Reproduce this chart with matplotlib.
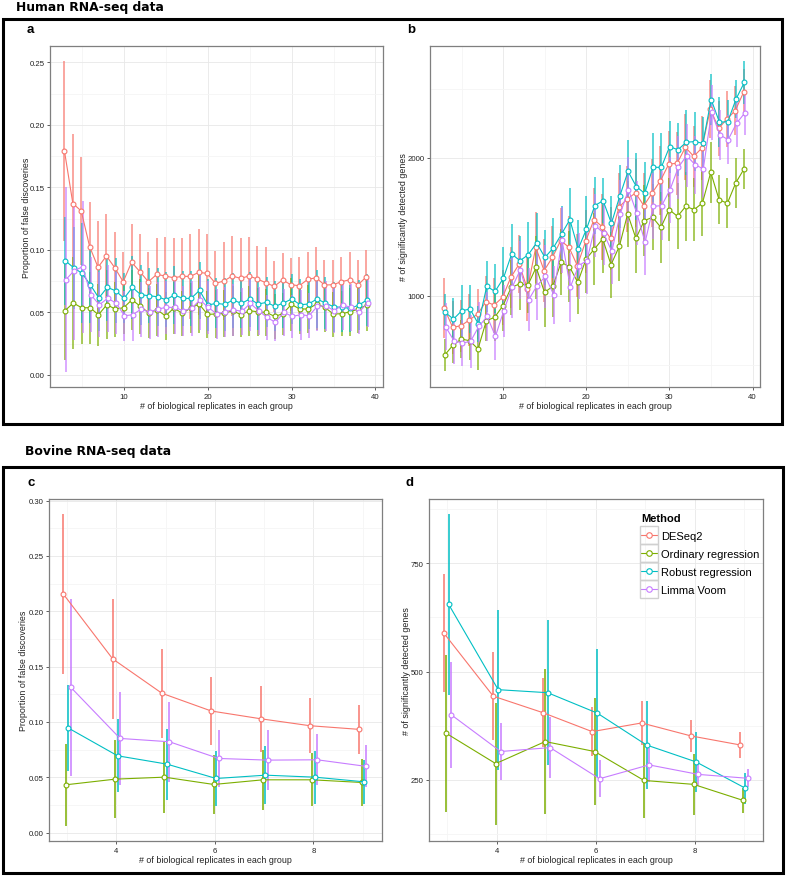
import matplotlib
matplotlib.use("Agg")
import matplotlib.pyplot as plt
from matplotlib.lines import Line2D
from matplotlib.patches import Rectangle
from matplotlib.ticker import FixedLocator, FormatStrFormatter
import numpy as np

plt.rcParams['font.family'] = ['Liberation Sans', 'DejaVu Sans']

methods = ['DESeq2', 'Ordinary regression', 'Robust regression', 'Limma Voom']
colors = ['#F8766D', '#7CAE00', '#00BFC4', '#C77CFF']
offsets = [-0.075, -0.025, 0.025, 0.075]

# ---- human data (3..39 replicates) ----
reps_h = list(range(3, 40))

fdr_h_deseq2 = [0.179, 0.137, 0.131, 0.1025, 0.086, 0.095, 0.0856, 0.0744, 0.090, 0.0824,
                0.0744, 0.0803, 0.079, 0.0776, 0.0787, 0.0787, 0.0819, 0.0811, 0.0731, 0.075,
                0.079, 0.0771, 0.079, 0.0766, 0.0736, 0.0707, 0.0758, 0.072, 0.0712, 0.0763,
                0.0776, 0.0718, 0.072, 0.0744, 0.076, 0.072, 0.0784]
fdr_h_ordinary = [0.0512, 0.0574, 0.0536, 0.0536, 0.048, 0.056, 0.0526, 0.0536, 0.060, 0.0547,
                  0.0496, 0.052, 0.047, 0.0534, 0.0491, 0.0534, 0.0566, 0.0483, 0.0486, 0.0491,
                  0.0512, 0.048, 0.0512, 0.0504, 0.0499, 0.0467, 0.0488, 0.0563, 0.0526, 0.0526,
                  0.0566, 0.0539, 0.0486, 0.0488, 0.0504, 0.0526, 0.0558]
fdr_h_robust = [0.0912, 0.0856, 0.0811, 0.0718, 0.0614, 0.0699, 0.0672, 0.0611, 0.0699, 0.064,
                0.0632, 0.0624, 0.060, 0.0638, 0.0611, 0.0611, 0.0675, 0.0558, 0.0571, 0.0563,
                0.0598, 0.0571, 0.0606, 0.0566, 0.0579, 0.0547, 0.0574, 0.0606, 0.056, 0.0566,
                0.0606, 0.0574, 0.0544, 0.0539, 0.0531, 0.0558, 0.060]
fdr_h_voom = [0.076, 0.0832, 0.0864, 0.064, 0.056, 0.0611, 0.0574, 0.0472, 0.048, 0.0526,
              0.0499, 0.0526, 0.0539, 0.0539, 0.0512, 0.0531, 0.0598, 0.0539, 0.0486, 0.0504,
              0.052, 0.0507, 0.0571, 0.0512, 0.0459, 0.0419, 0.0499, 0.0467, 0.048, 0.0472,
              0.0547, 0.0552, 0.0512, 0.0558, 0.0539, 0.0504, 0.0574]

fdr_h_deseq2_sd = [0.072, 0.0556, 0.0435, 0.036, 0.0367, 0.0336, 0.0283, 0.0241, 0.0307, 0.0305,
                   0.0241, 0.0291, 0.0315, 0.0315, 0.0304, 0.0342, 0.0344, 0.0315, 0.0259, 0.0315,
                   0.0317, 0.0326, 0.0315, 0.0267, 0.0283, 0.0203, 0.0216, 0.0211, 0.0227, 0.0216,
                   0.0243, 0.0202, 0.0198, 0.020, 0.0225, 0.020, 0.0216]
fdr_h_ordinary_sd = [0.039, 0.037, 0.029, 0.029, 0.025, 0.0275, 0.022, 0.021, 0.024, 0.022,
                     0.020, 0.021, 0.019, 0.021, 0.018, 0.020, 0.023, 0.019, 0.019, 0.019,
                     0.020, 0.018, 0.020, 0.019, 0.019, 0.018, 0.017, 0.021, 0.020, 0.019,
                     0.021, 0.020, 0.018, 0.018, 0.019, 0.019, 0.021]
fdr_h_robust_sd = [0.035, 0.033, 0.040, 0.030, 0.026, 0.027, 0.026, 0.020, 0.025, 0.024,
                   0.022, 0.023, 0.022, 0.023, 0.022, 0.022, 0.023, 0.021, 0.020, 0.021,
                   0.022, 0.020, 0.022, 0.021, 0.020, 0.020, 0.020, 0.020, 0.021, 0.020,
                   0.023, 0.021, 0.020, 0.020, 0.019, 0.020, 0.021]
fdr_h_voom_sd = [0.074, 0.055, 0.053, 0.030, 0.026, 0.027, 0.025, 0.020, 0.021, 0.022,
                 0.021, 0.022, 0.021, 0.021, 0.020, 0.022, 0.024, 0.021, 0.020, 0.020,
                 0.021, 0.019, 0.022, 0.019, 0.018, 0.015, 0.019, 0.017, 0.020, 0.018,
                 0.020, 0.020, 0.018, 0.020, 0.019, 0.018, 0.019]

deg_h_deseq2 = [908, 770, 782, 823, 867, 956, 932, 988, 1133, 1230,
                1048, 1351, 1182, 1278, 1400, 1351, 1218, 1395, 1552, 1501,
                1416, 1642, 1702, 1746, 1654, 1746, 1835, 1956, 1961, 2077,
                2012, 2073, 2356, 2215, 2283, 2344, 2477]
deg_h_ordinary = [569, 642, 685, 673, 613, 818, 843, 927, 1061, 1085,
                  1077, 1206, 1024, 1068, 1242, 1211, 1097, 1266, 1339, 1412,
                  1225, 1358, 1593, 1416, 1545, 1569, 1496, 1625, 1576, 1649,
                  1625, 1673, 1896, 1697, 1671, 1818, 1920]
deg_h_robust = [879, 830, 891, 903, 794, 1068, 1031, 1126, 1303, 1254,
                1298, 1383, 1278, 1346, 1448, 1552, 1339, 1484, 1654, 1690,
                1525, 1722, 1903, 1792, 1743, 1932, 1932, 2082, 2060, 2114,
                2119, 2107, 2424, 2259, 2264, 2429, 2550]
deg_h_voom = [775, 673, 656, 668, 777, 850, 705, 891, 1061, 1189,
              971, 1073, 1140, 1007, 1407, 1061, 1218, 1254, 1508, 1455,
              1322, 1593, 1770, 1600, 1387, 1649, 1654, 1770, 1932, 2017,
              1952, 1920, 2332, 2167, 2133, 2252, 2327]

deg_h_deseq2_sd = [218, 190, 190, 190, 180, 190, 200, 200, 220, 210,
                   230, 260, 230, 230, 240, 230, 230, 230, 230, 240,
                   230, 250, 240, 250, 240, 250, 250, 240, 230, 240,
                   220, 230, 210, 200, 200, 180, 170]
deg_h_ordinary_sd = [119, 130, 140, 140, 150, 150, 170, 180, 200, 190,
                     200, 230, 250, 220, 240, 260, 230, 250, 260, 250,
                     240, 250, 240, 250, 260, 240, 260, 230, 240, 250,
                     230, 240, 220, 180, 180, 180, 145]
deg_h_robust_sd = [130, 150, 190, 175, 130, 186, 200, 225, 218, 177,
                   240, 220, 200, 220, 206, 230, 213, 242, 206, 165,
                   200, 230, 228, 244, 230, 250, 247, 189, 194, 235,
                   213, 188, 186, 182, 160, 138, 157]
deg_h_voom_sd = [170, 170, 170, 190, 180, 180, 170, 190, 220, 210,
                 230, 250, 230, 210, 240, 250, 240, 240, 230, 230,
                 240, 250, 240, 230, 240, 240, 250, 240, 230, 230,
                 210, 210, 200, 180, 180, 170, 160]

# ---- bovine data (3..9 replicates) ----
reps_b = [3, 4, 5, 6, 7, 8, 9]

fdr_b_deseq2 = [0.2155, 0.157, 0.1259, 0.1099, 0.1029, 0.0966, 0.0933]
fdr_b_ordinary = [0.0432, 0.0483, 0.0501, 0.0435, 0.0477, 0.0477, 0.0453]
fdr_b_robust = [0.0945, 0.0694, 0.0619, 0.0489, 0.0519, 0.0501, 0.0459]
fdr_b_voom = [0.1313, 0.0851, 0.0821, 0.067, 0.0655, 0.0658, 0.0598]
fdr_b_deseq2_sd = [0.072, 0.054, 0.040, 0.031, 0.030, 0.025, 0.022]
fdr_b_ordinary_sd = [0.037, 0.035, 0.032, 0.027, 0.027, 0.024, 0.021]
fdr_b_robust_sd = [0.039, 0.033, 0.032, 0.025, 0.026, 0.024, 0.020]
fdr_b_voom_sd = [0.080, 0.042, 0.036, 0.026, 0.027, 0.023, 0.019]

deg_b_deseq2 = [589, 443, 405, 361, 381, 351, 330]
deg_b_ordinary = [357, 287, 338, 315, 248, 239, 202]
deg_b_robust = [655, 458, 451, 404, 330, 291, 230]
deg_b_voom = [400, 315, 324, 252, 284, 262, 253]
deg_b_deseq2_sd = [137, 101, 79, 57, 51, 37, 29]
deg_b_ordinary_sd = [181, 141, 168, 124, 86, 70, 29]
deg_b_robust_sd = [209, 185, 168, 147, 101, 70, 36]
deg_b_voom_sd = [123, 67, 71, 43, 40, 27, 21]

W, H = 787, 878
fig = plt.figure(figsize=(W / 100, H / 100), dpi=100)


def rect(l, t, r, b):
    # pixel box -> figure fraction
    return [l / W, 1 - b / H, (r - l) / W, (b - t) / H]


def panel(box, x, means, sds, alpha, elw):
    ax = fig.add_axes(rect(*box))
    for m, s, c, off in zip(means, sds, colors, offsets):
        xx = np.array(x) + off
        m = np.array(m, dtype=float)
        s = np.array(s, dtype=float)
        ax.vlines(xx, m - s, m + s, color=c, lw=elw, alpha=alpha, zorder=2)
    for m, c, off in zip(means, colors, offsets):
        xx = np.array(x) + off
        ax.plot(xx, m, color=c, lw=0.8, marker='o', ms=3.5, mfc='white',
                mec=c, mew=0.8, zorder=3)
    for sp in ax.spines.values():
        sp.set_color('#7F7F7F')
        sp.set_linewidth(0.9)
    ax.grid(which='major', color='#E8E8E8', lw=0.6)
    ax.grid(which='minor', color='#F5F5F5', lw=0.6)
    ax.set_axisbelow(True)
    ax.tick_params(which='major', length=2.5, width=0.6, color='#444444',
                   labelsize=5.6, pad=1.5, labelcolor='#222222')
    ax.tick_params(which='minor', length=0)
    ax.set_xlabel('# of biological replicates in each group', fontsize=6.4,
                  labelpad=1, color='#222222')
    return ax


fdr_h = [fdr_h_deseq2, fdr_h_ordinary, fdr_h_robust, fdr_h_voom]
fdr_h_sd = [fdr_h_deseq2_sd, fdr_h_ordinary_sd, fdr_h_robust_sd, fdr_h_voom_sd]
deg_h = [deg_h_deseq2, deg_h_ordinary, deg_h_robust, deg_h_voom]
deg_h_sd = [deg_h_deseq2_sd, deg_h_ordinary_sd, deg_h_robust_sd, deg_h_voom_sd]
fdr_b = [fdr_b_deseq2, fdr_b_ordinary, fdr_b_robust, fdr_b_voom]
fdr_b_sd = [fdr_b_deseq2_sd, fdr_b_ordinary_sd, fdr_b_robust_sd, fdr_b_voom_sd]
deg_b = [deg_b_deseq2, deg_b_ordinary, deg_b_robust, deg_b_voom]
deg_b_sd = [deg_b_deseq2_sd, deg_b_ordinary_sd, deg_b_robust_sd, deg_b_voom_sd]

# panel a
ax = panel((50, 47, 383, 388), reps_h, fdr_h, fdr_h_sd, 0.7, 1.3)
ax.set_xlim(1.2, 40.9)
ax.set_ylim(-0.0098, 0.263)
ax.xaxis.set_major_locator(FixedLocator([10, 20, 30, 40]))
ax.xaxis.set_minor_locator(FixedLocator([5, 15, 25, 35]))
ax.yaxis.set_major_locator(FixedLocator([0, 0.05, 0.10, 0.15, 0.20, 0.25]))
ax.yaxis.set_minor_locator(FixedLocator([0.025, 0.075, 0.125, 0.175, 0.225]))
ax.yaxis.set_major_formatter(FormatStrFormatter('%.2f'))
ax.set_ylabel('Proportion of false discoveries', fontsize=6.4, labelpad=-1, color='#222222')

# panel b
ax = panel((430, 47, 760, 388), reps_h, deg_h, deg_h_sd, 0.7, 1.3)
ax.set_xlim(1.2, 40.9)
ax.set_ylim(337, 2813)
ax.xaxis.set_major_locator(FixedLocator([10, 20, 30, 40]))
ax.xaxis.set_minor_locator(FixedLocator([5, 15, 25, 35]))
ax.yaxis.set_major_locator(FixedLocator([1000, 2000]))
ax.yaxis.set_minor_locator(FixedLocator([500, 1500, 2500]))
ax.set_ylabel('# of significantly detected genes', fontsize=6.4, labelpad=-0.5, color='#222222')

# panel c
ax = panel((49, 500, 382, 842), reps_b, fdr_b, fdr_b_sd, 1.0, 1.1)
ax.set_xlim(2.633, 9.39)
ax.set_ylim(-0.0076, 0.3015)
ax.xaxis.set_major_locator(FixedLocator([4, 6, 8]))
ax.xaxis.set_minor_locator(FixedLocator([3, 5, 7, 9]))
ax.yaxis.set_major_locator(FixedLocator([0, 0.05, 0.10, 0.15, 0.20, 0.25, 0.30]))
ax.yaxis.set_minor_locator(FixedLocator([0.025, 0.075, 0.125, 0.175, 0.225, 0.275]))
ax.yaxis.set_major_formatter(FormatStrFormatter('%.2f'))
ax.set_ylabel('Proportion of false discoveries', fontsize=6.4, labelpad=0, color='#222222')

# panel d
ax = panel((429, 500, 763, 842), reps_b, deg_b, deg_b_sd, 1.0, 1.1)
ax.set_xlim(2.626, 9.38)
ax.set_ylim(108, 899)
ax.xaxis.set_major_locator(FixedLocator([4, 6, 8]))
ax.xaxis.set_minor_locator(FixedLocator([3, 5, 7, 9]))
ax.yaxis.set_major_locator(FixedLocator([250, 500, 750]))
ax.yaxis.set_minor_locator(FixedLocator([125, 375, 625, 875]))
ax.set_ylabel('# of significantly detected genes', fontsize=6.4, labelpad=0, color='#222222')

handles = [Line2D([], [], color=c, lw=0.8, marker='o', ms=4, mfc='white', mec=c, mew=0.8)
           for c in colors]
leg = ax.legend(handles, methods, title='Method', loc='upper left',
                bbox_to_anchor=(633 / W, 1 - 506 / H), bbox_transform=fig.transFigure,
                frameon=False, fontsize=8, title_fontproperties={'weight': 'bold', 'size': 8},
                handlelength=1.45, handletextpad=0.4, labelspacing=0.72, borderpad=0.2)
leg._legend_box.align = 'left'

# grey key boxes like ggplot legend keys
fig.canvas.draw()
rend = fig.canvas.get_renderer()
for h in leg.legend_handles:
    bb = h.get_window_extent(rend)
    cx, cy = (bb.x0 + bb.x1) / 2, (bb.y0 + bb.y1) / 2
    fig.add_artist(Rectangle((cx - 9, cy - 9), 18, 18, transform=None,
                             fill=False, ec='#D0D0D0', lw=1.0, zorder=1))

# section frames and titles
fig.add_artist(Rectangle((3 / W, 1 - 425 / H), 779 / W, 405 / H, transform=fig.transFigure,
                         fill=False, ec='black', lw=2.2))
fig.add_artist(Rectangle((3 / W, 1 - 874 / H), 780 / W, 406 / H, transform=fig.transFigure,
                         fill=False, ec='black', lw=2.2))
fig.text(16 / W, 1 - 11 / H, 'Human RNA-seq data', fontsize=8.9, fontweight='bold',
         family='DejaVu Sans', va='baseline')
fig.text(25 / W, 1 - 455 / H, 'Bovine RNA-seq data', fontsize=8.9, fontweight='bold',
         family='DejaVu Sans', va='baseline')
fig.text(27 / W, 1 - 30 / H, 'a', fontsize=9.5, fontweight='bold', va='center')
fig.text(407 / W, 1 - 30 / H, 'b', fontsize=9.5, fontweight='bold', va='center')
fig.text(27 / W, 1 - 483 / H, 'c', fontsize=9.5, fontweight='bold', va='center')
fig.text(405 / W, 1 - 483 / H, 'd', fontsize=9.5, fontweight='bold', va='center')

fig.savefig('out.png', dpi=100)
